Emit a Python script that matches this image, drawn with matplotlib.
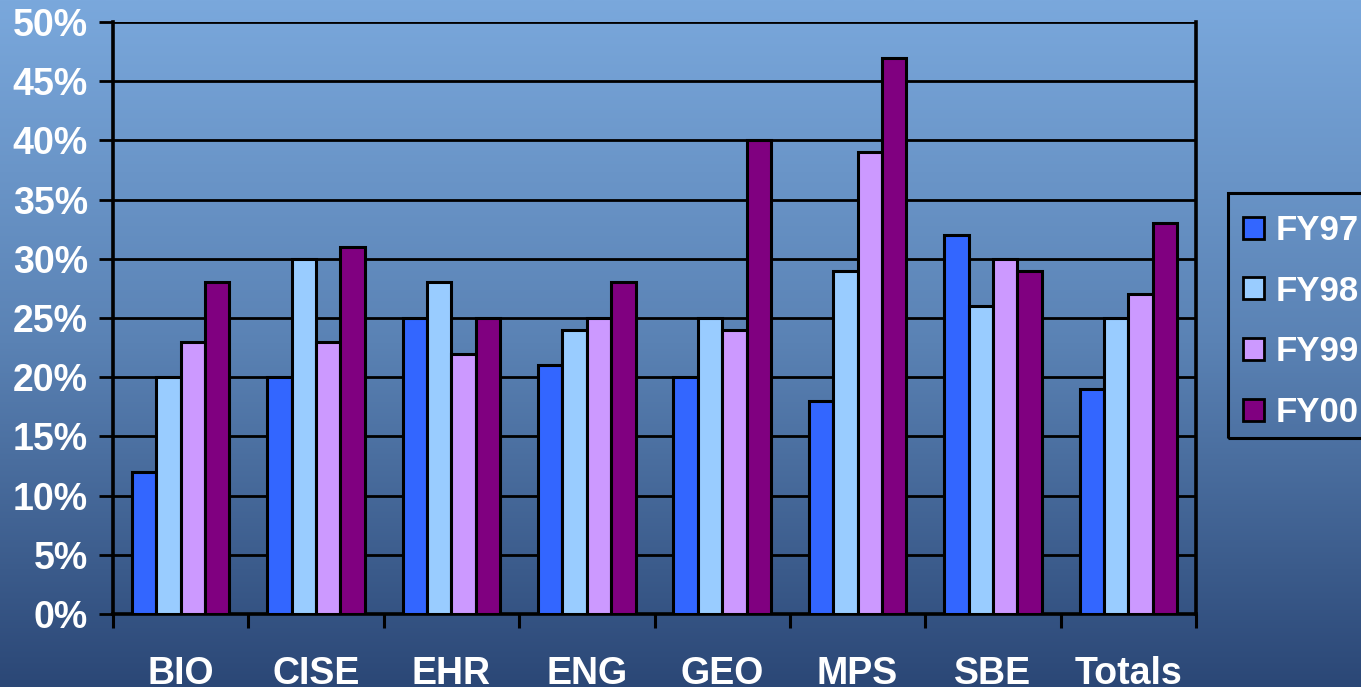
import numpy as np
import matplotlib
matplotlib.use("Agg")
import matplotlib.pyplot as plt
from matplotlib.patches import Patch, Rectangle
from matplotlib.colors import LinearSegmentedColormap

plt.rcParams['font.family'] = ['Liberation Sans', 'DejaVu Sans']

categories = ["BIO", "CISE", "EHR", "ENG", "GEO", "MPS", "SBE", "Totals"]
series_names = ["FY97", "FY98", "FY99", "FY00"]
fy97 = [12, 20, 25, 21, 20, 18, 32, 19]
fy98 = [20, 30, 28, 24, 25, 29, 26, 25]
fy99 = [23, 23, 22, 25, 24, 39, 30, 27]
fy00 = [28, 31, 25, 28, 40, 47, 29, 33]
series = [fy97, fy98, fy99, fy00]
colors = ["#3366ff", "#99ccff", "#cc99ff", "#800080"]
y_ticks = [0, 5, 10, 15, 20, 25, 30, 35, 40, 45, 50]

W, H = 1361, 687
fig = plt.figure(figsize=(W / 100, H / 100), dpi=100)

# vertical gradient background
bg = fig.add_axes([0, 0, 1, 1], zorder=0)
grad = np.linspace(0, 1, 256).reshape(-1, 1)
cmap = LinearSegmentedColormap.from_list("bg", ["#7aa8dc", "#5a82b4", "#2b4776"])
bg.imshow(grad, aspect="auto", cmap=cmap, extent=[0, 1, 0, 1], origin="upper")
bg.set_axis_off()

ax = fig.add_axes([113 / W, 73 / H, 1083 / W, 592 / H], zorder=1)
ax.patch.set_alpha(0)

n = len(categories)
bw = 0.18
x = np.arange(n)
for i, (vals, c) in enumerate(zip(series, colors)):
    ax.bar(x + (i - 1.5) * bw, vals, width=bw, color=c, edgecolor="black",
           linewidth=2.2, zorder=3, label=series_names[i])

ax.set_xlim(-0.5, n - 0.5)
ax.set_ylim(0, 50)
ax.set_yticks(y_ticks)
ax.set_yticklabels([f"{v}%" for v in y_ticks])
ax.yaxis.grid(True, color="black", linewidth=2.0, zorder=1)
ax.set_axisbelow(True)

# category boundaries as major ticks, labels centred on minor ticks
ax.set_xticks(np.arange(n + 1) - 0.5)
ax.set_xticklabels([])
ax.set_xticks(x, minor=True)
ax.set_xticklabels(categories, minor=True)
ax.tick_params(axis="x", which="major", length=10, width=2.2, direction="out", color="black")
ax.tick_params(axis="x", which="minor", length=0, pad=30)
ax.tick_params(axis="y", length=10, width=2.0, direction="out", color="black", pad=8)

for lab in ax.get_xticklabels(minor=True) + ax.get_yticklabels():
    lab.set_color("white")
    lab.set_fontweight("bold")
    lab.set_fontsize(27)

ax.spines["top"].set_visible(False)
for s in ["left", "right", "bottom"]:
    ax.spines[s].set_linewidth(2.6)
    ax.spines[s].set_color("black")

# legend entries, with the surrounding box drawn as a separate frame
handles = [Patch(facecolor=c, edgecolor="black", linewidth=2.0) for c in colors]
leg = fig.legend(handles, series_names, loc="upper left",
                 bbox_to_anchor=(1222 / W, 1 - 193 / H), frameon=False,
                 fontsize=25, handlelength=0.6, handleheight=0.6,
                 handletextpad=0.35, labelspacing=0.8, borderpad=0.6,
                 borderaxespad=0)
for t in leg.get_texts():
    t.set_color("white")
    t.set_fontweight("bold")

frame = Rectangle((1228 / W, 1 - 438 / H), 150 / W, 245 / H,
                  transform=fig.transFigure, facecolor="none",
                  edgecolor="black", linewidth=2.2, zorder=5, clip_on=False)
fig.add_artist(frame)

fig.savefig("out.png", dpi=100)
